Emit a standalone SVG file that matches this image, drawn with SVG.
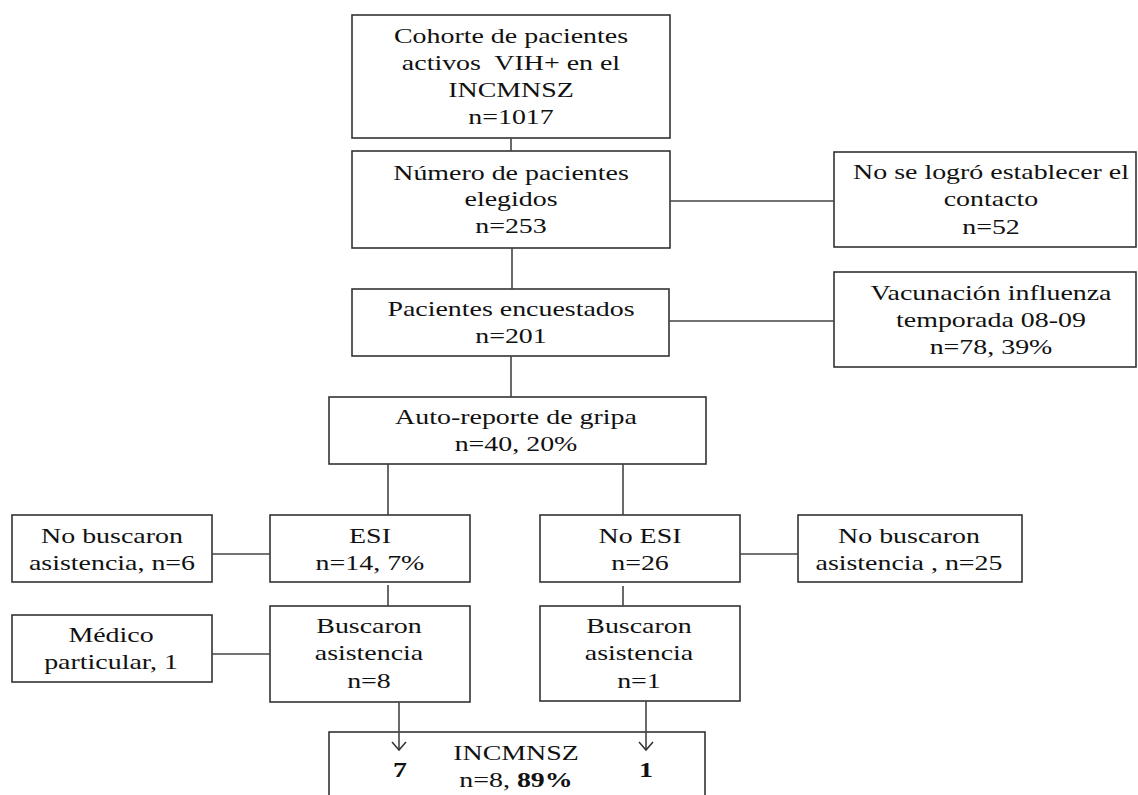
<svg xmlns="http://www.w3.org/2000/svg" width="1138" height="795" viewBox="0 0 1138 795">
<style>
.box{fill:#fff;stroke:#333;stroke-width:1.6}
.ln{stroke:#444;stroke-width:1.6;fill:none}
.ah{stroke:#333;stroke-width:1.5;fill:none}
.t{font-family:"Liberation Serif","Times New Roman",serif;font-size:21px;fill:#111;text-anchor:middle}
</style>
<rect width="1138" height="795" fill="#fff"/>
<g id="n1">
<rect class="box" x="352" y="15" width="318" height="123"/>
<text class="t" transform="translate(511 0) scale(1.33 1)"><tspan x="0" y="43">Cohorte de pacientes</tspan><tspan x="0" y="70">activos&#160; VIH+ en el</tspan><tspan x="0" y="97">INCMNSZ</tspan><tspan x="0" y="124">n=1017</tspan></text>
</g>
<g id="n2">
<rect class="box" x="352" y="151" width="318" height="97"/>
<text class="t" transform="translate(511 0) scale(1.33 1)"><tspan x="0" y="180">Número de pacientes</tspan><tspan x="0" y="206">elegidos</tspan><tspan x="0" y="233">n=253</tspan></text>
</g>
<g id="n_nocontact">
<rect class="box" x="834" y="152" width="302" height="95"/>
<text class="t" transform="translate(991 0) scale(1.33 1)"><tspan x="0" y="179">No se logró establecer el</tspan><tspan x="0" y="206">contacto</tspan><tspan x="0" y="234">n=52</tspan></text>
</g>
<g id="n3">
<rect class="box" x="352" y="289" width="317" height="67"/>
<text class="t" transform="translate(511 0) scale(1.33 1)"><tspan x="0" y="316">Pacientes encuestados</tspan><tspan x="0" y="343">n=201</tspan></text>
</g>
<g id="n_vac">
<rect class="box" x="834" y="272" width="302" height="95"/>
<text class="t" transform="translate(991 0) scale(1.33 1)"><tspan x="0" y="300">Vacunación influenza</tspan><tspan x="0" y="327">temporada 08-09</tspan><tspan x="0" y="354">n=78, 39%</tspan></text>
</g>
<g id="n4">
<rect class="box" x="329" y="397" width="377" height="67"/>
<text class="t" transform="translate(516 0) scale(1.33 1)"><tspan x="0" y="424">Auto-reporte de gripa</tspan><tspan x="0" y="451">n=40, 20%</tspan></text>
</g>
<g id="n_nobusc6">
<rect class="box" x="12" y="515" width="200" height="67"/>
<text class="t" transform="translate(112 0) scale(1.33 1)"><tspan x="0" y="543">No buscaron</tspan><tspan x="0" y="570">asistencia, n=6</tspan></text>
</g>
<g id="n_esi">
<rect class="box" x="270" y="515" width="200" height="67"/>
<text class="t" transform="translate(370 0) scale(1.33 1)"><tspan x="0" y="543">ESI</tspan><tspan x="0" y="570">n=14, 7%</tspan></text>
</g>
<g id="n_noesi">
<rect class="box" x="540" y="515" width="200" height="67"/>
<text class="t" transform="translate(640 0) scale(1.33 1)"><tspan x="0" y="543">No ESI</tspan><tspan x="0" y="570">n=26</tspan></text>
</g>
<g id="n_nobusc25">
<rect class="box" x="798" y="515" width="224" height="67"/>
<text class="t" transform="translate(909 0) scale(1.33 1)"><tspan x="0" y="543">No buscaron</tspan><tspan x="0" y="570">asistencia , n=25</tspan></text>
</g>
<g id="n_medico">
<rect class="box" x="12" y="615" width="200" height="67"/>
<text class="t" transform="translate(111 0) scale(1.33 1)"><tspan x="0" y="642">Médico</tspan><tspan x="0" y="669">particular, 1</tspan></text>
</g>
<g id="n_busc8">
<rect class="box" x="270" y="606" width="200" height="96"/>
<text class="t" transform="translate(369 0) scale(1.33 1)"><tspan x="0" y="633">Buscaron</tspan><tspan x="0" y="660">asistencia</tspan><tspan x="0" y="688">n=8</tspan></text>
</g>
<g id="n_busc1">
<rect class="box" x="540" y="606" width="200" height="95"/>
<text class="t" transform="translate(639 0) scale(1.33 1)"><tspan x="0" y="633">Buscaron</tspan><tspan x="0" y="660">asistencia</tspan><tspan x="0" y="688">n=1</tspan></text>
</g>
<g id="n_incmnsz">
<rect class="box" x="329" y="732" width="376" height="80"/>
<text class="t" transform="translate(516 0) scale(1.33 1)"><tspan x="0" y="760">INCMNSZ</tspan><tspan x="0" y="787">n=8, <tspan font-weight="bold">89%</tspan></tspan></text>
<text class="t" font-weight="bold" transform="translate(400 0) scale(1.33 1)" x="0" y="777">7</text>
<text class="t" font-weight="bold" transform="translate(646 0) scale(1.33 1)" x="0" y="777">1</text>
</g>
<g id="connectors">
<line class="ln" x1="511" y1="138" x2="511" y2="151"/>
<line class="ln" x1="512" y1="248" x2="512" y2="289"/>
<line class="ln" x1="670" y1="201" x2="834" y2="201"/>
<line class="ln" x1="669" y1="321" x2="834" y2="321"/>
<line class="ln" x1="511" y1="356" x2="511" y2="397"/>
<line class="ln" x1="388" y1="464" x2="388" y2="515"/>
<line class="ln" x1="623" y1="464" x2="623" y2="515"/>
<line class="ln" x1="212" y1="554" x2="270" y2="554"/>
<line class="ln" x1="740" y1="554" x2="798" y2="554"/>
<line class="ln" x1="388" y1="585" x2="388" y2="606"/>
<line class="ln" x1="623" y1="586" x2="623" y2="606"/>
<line class="ln" x1="212" y1="654" x2="270" y2="654"/>
<line class="ln" x1="399" y1="702" x2="399" y2="750"/>
<path class="ah" d="M392,742 L399,750 L406,742"/>
<line class="ln" x1="646" y1="701" x2="646" y2="750"/>
<path class="ah" d="M639,742 L646,750 L653,742"/>
</g>
</svg>
